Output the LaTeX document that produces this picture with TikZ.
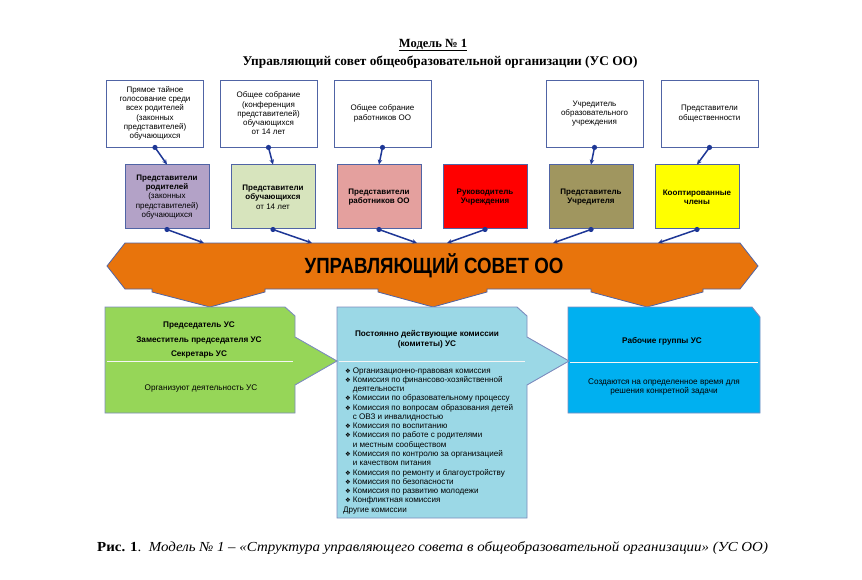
\documentclass[tikz,border=0pt]{standalone}
\usepackage{fontspec}
\setmainfont{Liberation Serif}
\newfontfamily\arial{Liberation Sans}
\newfontfamily\narrow[FakeStretch=0.85]{Liberation Sans}
\newfontfamily\dejavu{DejaVu Sans}
\usetikzlibrary{arrows.meta}
\definecolor{bordblue}{RGB}{80,100,165}
\definecolor{connblue}{RGB}{30,55,150}
\definecolor{cpurple}{RGB}{179,162,199}
\definecolor{clgreen}{RGB}{215,228,189}
\definecolor{cpink}{RGB}{228,160,158}
\definecolor{cred}{RGB}{255,0,0}
\definecolor{colive}{RGB}{160,150,95}
\definecolor{cyellow}{RGB}{255,255,0}
\definecolor{corange}{RGB}{232,116,12}
\definecolor{cgreen}{RGB}{150,214,88}
\definecolor{clblue}{RGB}{155,216,230}
\definecolor{cblue}{RGB}{0,176,240}
\definecolor{lowbord}{RGB}{125,140,190}
\newcommand{\bul}{\makebox[7.6pt][l]{\dejavu\fontsize{6.3}{6.3}\selectfont ❖}}
\tikzset{
  wbox/.style={draw=bordblue, line width=0.9pt, fill=white, minimum width=97pt, minimum height=67pt, inner sep=0pt, align=center, font=\arial\fontsize{8}{9.3}\selectfont},
  cbox/.style={draw=bordblue, line width=1pt, minimum width=84pt, minimum height=64pt, inner sep=0pt, align=center, font=\arial\fontsize{8}{9.3}\selectfont},
  conn/.style={draw=connblue, line width=1.5pt, -{Stealth[length=5pt,width=4.5pt]}},
  lowbox/.style={draw=lowbord, line width=0.9pt},
  divider/.style={draw=white!92!gray, line width=0.8pt},
  lowtxt/.style={inner sep=0pt, align=center, font=\arial\fontsize{8.2}{9.6}\selectfont},
  lst/.style={inner sep=0pt, anchor=west, text height=6pt, text depth=2pt, font=\arial\fontsize{8.1}{9.3}\selectfont}
}
\begin{document}
\begin{tikzpicture}[x=1pt,y=-1pt]
\useasboundingbox (0,0) rectangle (862,580);
\fill[white] (0,0) rectangle (862,580);
% titles
\node[inner sep=0pt] (t1) at (433,45) {\bfseries\fontsize{12.5}{14}\selectfont\underline{Модель № 1}};
\node[inner sep=0pt] (t2) at (440,62) {\bfseries\fontsize{13.3}{15}\selectfont Управляющий совет общеобразовательной организации (УС ОО)};
% top white boxes
\node[wbox] (w1) at (155,113.5) {Прямое тайное\\голосование среди\\всех родителей\\(законных\\представителей)\\обучающихся};
\node[wbox] (w2) at (268.5,113.5) {Общее собрание\\(конференция\\представителей)\\обучающихся\\от 14 лет};
\node[wbox] (w3) at (382.5,113.5) {Общее собрание\\работников ОО};
\node[wbox] (w5) at (594.5,113.5) {Учредитель\\образовательного\\учреждения};
\node[wbox] (w6) at (709.5,113.5) {Представители\\общественности};
% coloured boxes
\node[cbox, fill=cpurple] (c1) at (167,197) {\textbf{Представители}\\\textbf{родителей}\\(законных\\представителей)\\обучающихся};
\node[cbox, fill=clgreen] (c2) at (273,197) {\textbf{Представители}\\\textbf{обучающихся}\\от 14 лет};
\node[cbox, fill=cpink] (c3) at (379,197) {\textbf{Представители}\\\textbf{работников ОО}};
\node[cbox, fill=cred] (c4) at (485,197) {\textbf{Руководитель}\\\textbf{Учреждения}};
\node[cbox, fill=colive] (c5) at (591,197) {\textbf{Представитель}\\\textbf{Учредителя}};
\node[cbox, fill=cyellow] (c6) at (697,197) {\textbf{Кооптированные}\\\textbf{члены}};
% connectors top
\foreach \a/\b in {w1/c1,w2/c2,w3/c3,w5/c5,w6/c6}{
  \draw[conn] (\a.south) -- (\b.north);
  \fill[connblue] (\a.south) circle (2.6pt);
}
% orange banner
\draw[draw=bordblue, line width=0.8pt, fill=corange]
  (125,243) -- (740,243) -- (758,266) -- (740,289) -- (703,289) -- (703,292) -- (647,307) -- (591,292) -- (591,289)
  -- (487,289) -- (487,292) -- (433,307) -- (378,292) -- (378,289)
  -- (265,289) -- (265,292) -- (210,307) -- (152,292) -- (152,289) -- (125,289) -- (107,266) -- cycle;
\node[inner sep=0pt] (usc) at (434,266) {\narrow\bfseries\fontsize{22}{24}\selectfont УПРАВЛЯЮЩИЙ СОВЕТ ОО};
\coordinate (e1) at (204,243);
\coordinate (e2) at (312,243);
\coordinate (e3) at (417,243);
\coordinate (e4) at (447,243);
\coordinate (e5) at (553,243);
\coordinate (e6) at (658,243);
\foreach \a/\b in {c1/e1,c2/e2,c3/e3,c4/e4,c5/e5,c6/e6}{
  \draw[conn] (\a.south) -- (\b);
  \fill[connblue] (\a.south) circle (2.6pt);
}
% lower boxes
\draw[lowbox, fill=cblue] (568,307) -- (752,307) -- (760,317) -- (760,413) -- (568,413) -- cycle;
\draw[lowbox, fill=clblue] (337,307) -- (517,307) -- (527,316) -- (527,337) -- (569,361) -- (527,385) -- (527,518) -- (337,518) -- cycle;
\draw[lowbox, fill=cgreen] (105,307) -- (285,307) -- (295,316) -- (295,337) -- (337,361) -- (295,385) -- (295,413) -- (105,413) -- cycle;
\draw[divider] (107,361) -- (293,361);
\draw[divider] (339,361) -- (525,361);
\draw[divider] (570,362) -- (758,362);
% green texts
\node[lowtxt] (g1) at (199,325) {\textbf{Председатель УС}};
\node[lowtxt] (g2) at (199,340) {\textbf{Заместитель председателя УС}};
\node[lowtxt] (g3) at (199,354) {\textbf{Секретарь УС}};
\node[lowtxt] (g4) at (201,388) {Организуют деятельность УС};
% blue texts
\node[lowtxt] (b0) at (427,339.5) {\textbf{Постоянно действующие комиссии}\\\textbf{(комитеты) УС}};
\node[lst] (k1) at (345,371) {\bul Организационно-правовая комиссия};
\node[lst] (k2) at (345,380.3) {\bul Комиссия по финансово-хозяйственной};
\node[lst] (k3) at (352.6,389.5) {деятельности};
\node[lst] (k4) at (345,398.8) {\bul Комиссии по образовательному процессу};
\node[lst] (k5) at (345,408.1) {\bul Комиссия по вопросам образования детей};
\node[lst] (k6) at (352.6,417.4) {с ОВЗ и инвалидностью};
\node[lst] (k7) at (345,426.6) {\bul Комиссия по воспитанию};
\node[lst] (k8) at (345,435.9) {\bul Комиссия по работе с родителями};
\node[lst] (k9) at (352.6,445.2) {и местным сообществом};
\node[lst] (k10) at (345,454.4) {\bul Комиссия по контролю за организацией};
\node[lst] (k11) at (352.6,463.7) {и качеством питания};
\node[lst] (k12) at (345,473) {\bul Комиссия по ремонту и благоустройству};
\node[lst] (k13) at (345,482.2) {\bul Комиссия по безопасности};
\node[lst] (k14) at (345,491.5) {\bul Комиссия по развитию молодежи};
\node[lst] (k15) at (345,500.8) {\bul Конфликтная комиссия};
\node[lst] (k16) at (343,510) {Другие комиссии};
% right texts
\node[lowtxt] (r1) at (662,341) {\textbf{Рабочие группы УС}};
\node[lowtxt] (r2) at (664,387) {Создаются на определенное время для\\решения конкретной задачи};
% caption
\node[inner sep=0pt, anchor=west] (cap) at (97,548) {\scalebox{1.08}[1]{\fontsize{13.8}{16}\selectfont\textbf{Рис. 1}.\ \ \textit{Модель № 1 – «Структура управляющего совета в общеобразовательной организации» (УС ОО)}}};
\end{tikzpicture}
\end{document}
